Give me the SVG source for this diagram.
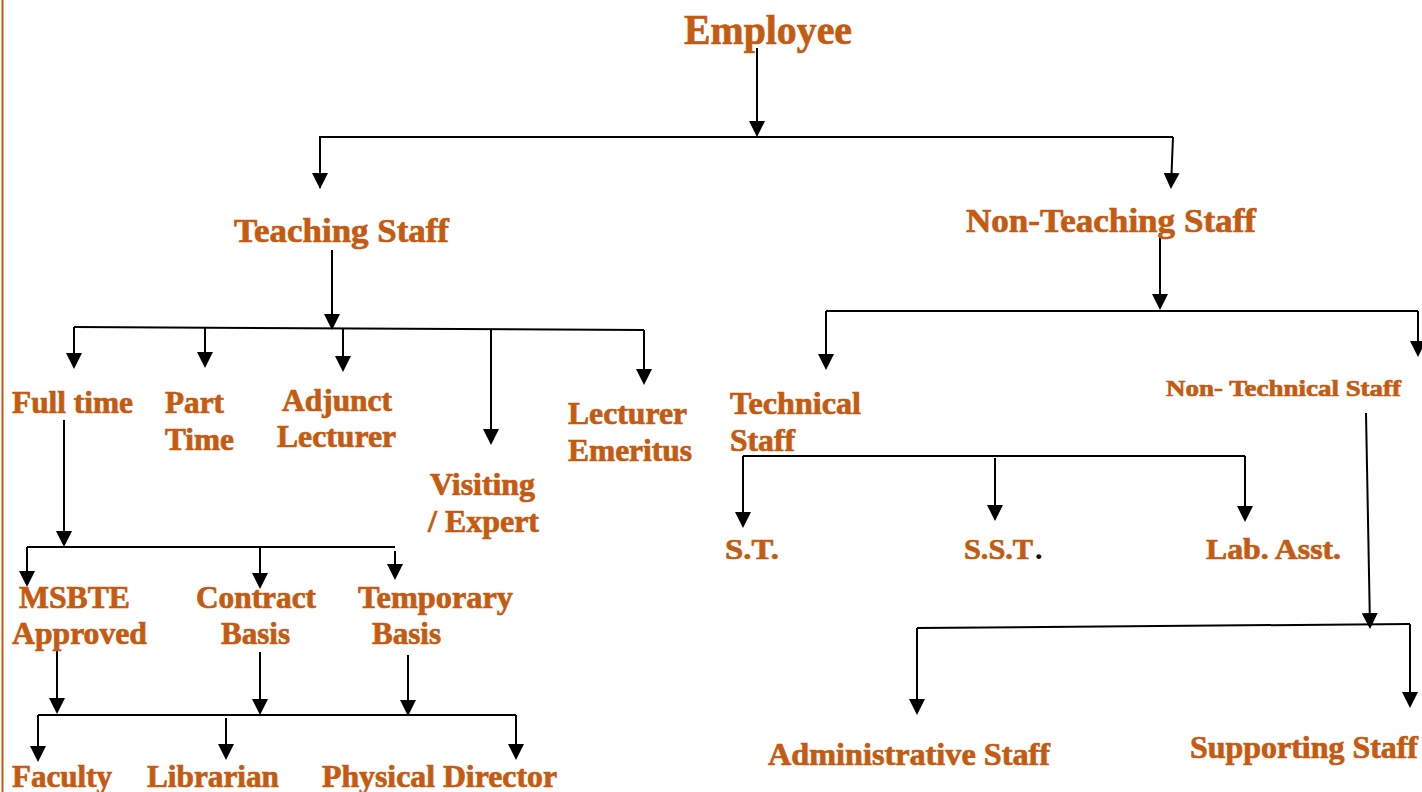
<svg xmlns="http://www.w3.org/2000/svg" width="1422" height="792" viewBox="0 0 1422 792">
<defs>
<style>
.t{font-family:"Liberation Serif","Times New Roman",serif;font-weight:bold;fill:#C55A11;stroke:#C55A11;stroke-width:0.7;}
.c{fill:none;stroke:#000;stroke-width:2;}
.a{fill:none;stroke:#000;stroke-width:2;marker-end:url(#arr);}
</style>
<marker id="arr" viewBox="0 0 16 16" refX="14" refY="8" markerWidth="16" markerHeight="16" markerUnits="userSpaceOnUse" orient="auto">
<path d="M0,0 L16,8 L0,16 z" fill="#000"/>
</marker>
</defs>
<rect width="1422" height="792" fill="#fff"/>
<line x1="2.5" y1="0" x2="2.5" y2="792" stroke="#C55A11" stroke-width="2"/>

<g id="connectors">
<path class="a" d="M757,48 V135"/>
<path class="c" d="M320,188 V137 H1173"/>
<path class="a" d="M320,137 V187"/>
<path class="a" d="M1173,137 L1171,187"/>

<path class="a" d="M332,250 V328"/>
<path class="c" d="M74,327 L644,330"/>
<path class="a" d="M74,327 V367"/>
<path class="a" d="M205,328 V366"/>
<path class="a" d="M343,329 V370"/>
<path class="a" d="M491,330 V443"/>
<path class="a" d="M644,330 V383"/>

<path class="a" d="M64,420 V545"/>
<path class="c" d="M27,547 H395"/>
<path class="a" d="M27,547 V585"/>
<path class="a" d="M260,547 V587"/>
<path class="a" d="M395,551 V578"/>

<path class="a" d="M57,645 V712"/>
<path class="a" d="M260,652 V713"/>
<path class="a" d="M408,655 V714"/>
<path class="c" d="M38,715 H516"/>
<path class="a" d="M38,715 V760"/>
<path class="a" d="M226,718 V758"/>
<path class="a" d="M516,715 V758"/>

<path class="a" d="M1160,233 V308"/>
<path class="c" d="M826,311 H1418"/>
<path class="a" d="M826,311 V368"/>
<path class="a" d="M1418,311 V355"/>

<path class="c" d="M743,456 H1245"/>
<path class="a" d="M743,456 V526"/>
<path class="a" d="M995,458 V519"/>
<path class="a" d="M1245,456 V520"/>

<path class="a" d="M1366,413 L1370,627"/>
<path class="c" d="M917,628 L1410,624"/>
<path class="a" d="M917,628 V713"/>
<path class="a" d="M1410,624 V706"/>
</g>

<g id="employee"><text class="t" x="684" y="44" font-size="43" textLength="168" lengthAdjust="spacingAndGlyphs">Employee</text></g>
<g id="teaching-staff"><text class="t" x="234" y="242" font-size="34" textLength="215" lengthAdjust="spacingAndGlyphs">Teaching Staff</text></g>
<g id="non-teaching-staff"><text class="t" x="966" y="232" font-size="34" textLength="290" lengthAdjust="spacingAndGlyphs">Non-Teaching Staff</text></g>

<g id="full-time"><text class="t" x="12" y="413" font-size="31" textLength="121" lengthAdjust="spacingAndGlyphs">Full time</text></g>
<g id="part-time"><text class="t" x="165" y="413" font-size="31" textLength="59" lengthAdjust="spacingAndGlyphs">Part</text><text class="t" x="165" y="450" font-size="31" textLength="69" lengthAdjust="spacingAndGlyphs">Time</text></g>
<g id="adjunct-lecturer"><text class="t" x="282" y="411" font-size="31" textLength="110" lengthAdjust="spacingAndGlyphs">Adjunct</text><text class="t" x="277" y="447" font-size="31" textLength="119" lengthAdjust="spacingAndGlyphs">Lecturer</text></g>
<g id="visiting-expert"><text class="t" x="430" y="495" font-size="31" textLength="105" lengthAdjust="spacingAndGlyphs">Visiting</text><text class="t" x="428" y="532" font-size="31" textLength="111" lengthAdjust="spacingAndGlyphs">/ Expert</text></g>
<g id="lecturer-emeritus"><text class="t" x="568" y="424" font-size="31" textLength="119" lengthAdjust="spacingAndGlyphs">Lecturer</text><text class="t" x="568" y="461" font-size="31" textLength="124" lengthAdjust="spacingAndGlyphs">Emeritus</text></g>

<g id="msbte-approved"><text class="t" x="19" y="608" font-size="31" textLength="111" lengthAdjust="spacingAndGlyphs">MSBTE</text><text class="t" x="12" y="644" font-size="31" textLength="135" lengthAdjust="spacingAndGlyphs">Approved</text></g>
<g id="contract-basis"><text class="t" x="196" y="608" font-size="31" textLength="120" lengthAdjust="spacingAndGlyphs">Contract</text><text class="t" x="221" y="644" font-size="31" textLength="69" lengthAdjust="spacingAndGlyphs">Basis</text></g>
<g id="temporary-basis"><text class="t" x="358" y="608" font-size="31" textLength="155" lengthAdjust="spacingAndGlyphs">Temporary</text><text class="t" x="372" y="644" font-size="31" textLength="69" lengthAdjust="spacingAndGlyphs">Basis</text></g>

<g id="faculty"><text class="t" x="12" y="787" font-size="31" textLength="100" lengthAdjust="spacingAndGlyphs">Faculty</text></g>
<g id="librarian"><text class="t" x="147" y="787" font-size="31" textLength="132" lengthAdjust="spacingAndGlyphs">Librarian</text></g>
<g id="physical-director"><text class="t" x="322" y="787" font-size="31" textLength="235" lengthAdjust="spacingAndGlyphs">Physical Director</text></g>

<g id="technical-staff"><text class="t" x="730" y="414" font-size="31" textLength="131" lengthAdjust="spacingAndGlyphs">Technical</text><text class="t" x="730" y="451" font-size="31" textLength="65" lengthAdjust="spacingAndGlyphs">Staff</text></g>
<g id="non-technical-staff"><text class="t" x="1166" y="396" font-size="24" textLength="235" lengthAdjust="spacingAndGlyphs">Non- Technical Staff</text></g>

<g id="st"><text class="t" x="725" y="559" font-size="30" textLength="54" lengthAdjust="spacingAndGlyphs">S.T.</text></g>
<g id="sst"><text class="t" x="964" y="559" font-size="30" textLength="69" lengthAdjust="spacingAndGlyphs">S.S.T</text><text x="1035" y="559" font-size="30" font-family="Liberation Serif, serif" font-weight="bold" fill="#000">.</text></g>
<g id="lab-asst"><text class="t" x="1206" y="559" font-size="30" textLength="135" lengthAdjust="spacingAndGlyphs">Lab. Asst.</text></g>

<g id="administrative-staff"><text class="t" x="768" y="765" font-size="32" textLength="282" lengthAdjust="spacingAndGlyphs">Administrative Staff</text></g>
<g id="supporting-staff"><text class="t" x="1190" y="758" font-size="32" textLength="228" lengthAdjust="spacingAndGlyphs">Supporting Staff</text></g>
</svg>
